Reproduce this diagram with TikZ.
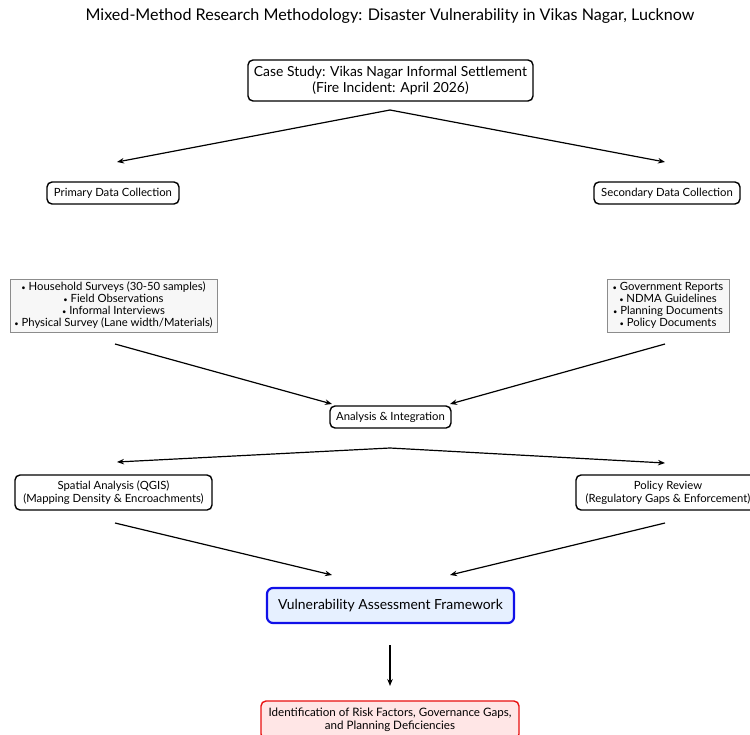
\documentclass[tikz,border=0pt]{standalone}
\usepackage{fontspec}
\setmainfont{Lato}
\usetikzlibrary{arrows.meta}
\definecolor{vulnblue}{HTML}{1010E8}
\definecolor{vulnfill}{HTML}{E6F0FF}
\definecolor{riskred}{HTML}{E81010}
\definecolor{riskfill}{HTML}{FFE6E6}
\newcommand{\bul}{\raisebox{0.6pt}{\fontsize{7.5}{7.5}\selectfont •}}
\begin{document}
\begin{tikzpicture}[x=1pt,y=-1pt,
  box/.style={draw=black, line width=1.4pt, rounded corners=5pt, fill=white, align=center, inner sep=0pt},
  listbox/.style={draw=black!45, line width=0.8pt, fill=black!3, align=center, inner sep=0pt, font=\fontsize{11.3}{12}\selectfont},
  small/.style={font=\fontsize{11.3}{13}\selectfont},
  big/.style={font=\fontsize{13.9}{16}\selectfont},
  arr/.style={-{Stealth[length=7pt,width=5.5pt]}, line width=1.2pt}]
\useasboundingbox (0,0) rectangle (750,734);
\clip (0,0) rectangle (750,734);

\node (title) at (390,16) [font=\fontsize{16.1}{18}\selectfont] {Mixed-Method Research Methodology: Disaster Vulnerability in Vikas Nagar, Lucknow};

\node (case) at (390.5,80.5) [box, big, minimum width=285pt, minimum height=41pt] {Case Study: Vikas Nagar Informal Settlement\\(Fire Incident: April 2026)};

\node (prim) at (113,193) [box, small, minimum width=132pt, minimum height=22pt] {Primary Data Collection};
\node (sec) at (667,193) [box, small, minimum width=146pt, minimum height=22pt] {Secondary Data Collection};

\node (plist) at (113.5,305.5) [listbox, minimum width=207pt, minimum height=53pt] {\bul{} Household Surveys (30-50 samples)\\\bul{} Field Observations\\\bul{} Informal Interviews\\\bul{} Physical Survey (Lane width/Materials)};
\node (slist) at (668,305.5) [listbox, minimum width=122pt, minimum height=53pt] {\bul{} Government Reports\\\bul{} NDMA Guidelines\\\bul{} Planning Documents\\\bul{} Policy Documents};

\node (ana) at (390.5,417) [box, small, minimum width=121pt, minimum height=22pt] {Analysis \& Integration};

\node (spat) at (113.5,492.5) [box, small, minimum width=197pt, minimum height=35pt] {Spatial Analysis (QGIS)\\(Mapping Density \& Encroachments)};
\node (pol) at (668,492.5) [box, small, minimum width=184pt, minimum height=35pt] {Policy Review\\(Regulatory Gaps \& Enforcement)};

\node (vuln) at (390.5,605.5) [draw=vulnblue, line width=2.2pt, rounded corners=6pt, fill=vulnfill, align=center, inner sep=0pt, big, minimum width=247pt, minimum height=35pt] {Vulnerability Assessment Framework};

\node (risk) at (390,720) [draw=riskred, line width=1.4pt, rounded corners=5pt, fill=riskfill, align=center, inner sep=0pt, small, font=\fontsize{11.6}{12.5}\selectfont, minimum width=258pt, minimum height=38pt] {Identification of Risk Factors, Governance Gaps,\\and Planning Deficiencies};

% connector end points
\coordinate (c1) at (390,110);
\coordinate (p1) at (117,162);
\coordinate (s1) at (665,162);
\coordinate (p2) at (115,344);
\coordinate (s2) at (665,344);
\coordinate (a1) at (332,404);
\coordinate (a2) at (450,404);
\coordinate (a3) at (390,448);
\coordinate (sp1) at (117,462);
\coordinate (po1) at (665,463);
\coordinate (sp2) at (115,523);
\coordinate (po2) at (665,523);
\coordinate (v1) at (332,575);
\coordinate (v2) at (450,575);
\coordinate (v3) at (390,645);
\coordinate (r1) at (390,686);

\draw[arr] (c1) -- (p1);
\draw[arr] (c1) -- (s1);
\draw[arr] (p2) -- (a1);
\draw[arr] (s2) -- (a2);
\draw[arr] (a3) -- (sp1);
\draw[arr] (a3) -- (po1);
\draw[arr] (sp2) -- (v1);
\draw[arr] (po2) -- (v2);
\draw[arr] (v3) -- (r1);
\end{tikzpicture}
\end{document}
